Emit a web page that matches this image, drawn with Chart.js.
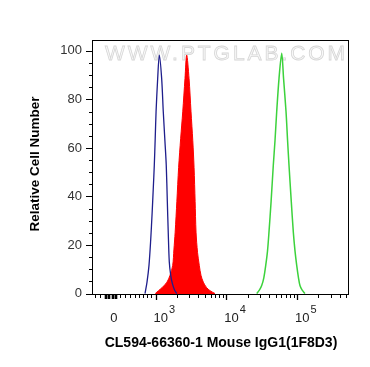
<!DOCTYPE html>
<html><head><meta charset="utf-8">
<script src="https://cdn.jsdelivr.net/npm/chart.js@4/dist/chart.umd.min.js"></script>
<style>html,body{margin:0;padding:0;background:#fff;}canvas{display:block}</style>
</head><body>
<canvas id="c" width="370" height="367"></canvas>
<script>
// ---- text ----
const xTitle = 'CL594-66360-1 Mouse IgG1(1F8D3)';
const yTitle = 'Relative Cell Number';
const watermark = 'WWW.PTGLAB.COM';

// ---- axes (x in display decades: 3 = 10^3, 4 = 10^4 ...) ----
const yTickValues = [0, 20, 40, 60, 80, 100];
const yMinorStep = 5;
const xZeroPosition = 2.41;          // where "0" sits on the biexponential axis
const xDecadeExponents = [3, 4, 5];  // labelled decades 10^3, 10^4, 10^5
const xLowMinorTicks = [2.145, 2.216, 2.498, 2.569, 2.640, 2.710, 2.771, 2.828, 2.884, 2.932];
const xZeroClusterTicks = [2.286, 2.307, 2.328, 2.349, 2.385, 2.406, 2.427, 2.448];

// ---- series (x: display decade position, y: relative cell number) ----
const blueX = [2.852, 2.880, 2.908, 2.932, 2.952, 2.968, 2.983, 2.996, 3.008, 3.031, 3.054, 3.087, 3.110, 3.133, 3.152, 3.167, 3.180, 3.195, 3.215, 3.238, 3.269, 3.300];
const blueY = [0, 4.7, 11.6, 22, 33, 43, 52.9, 64, 74.9, 88.7, 98.3, 88.7, 74.9, 63, 52.9, 38, 25.3, 13, 7.5, 4.2, 1.5, 0];

const redX = [2.997, 3.043, 3.095, 3.162, 3.205, 3.243, 3.260, 3.278, 3.302, 3.327, 3.356, 3.385, 3.417, 3.441, 3.474, 3.502, 3.527, 3.545, 3.560, 3.573, 3.594, 3.619, 3.643, 3.676, 3.721, 3.770, 3.841];
const redY = [0, 1.2, 2.5, 4.7, 7.5, 11.6, 18, 25.3, 38, 52, 64, 74.9, 88.7, 98.3, 88.7, 74.9, 63, 52, 38, 25.3, 17, 11.6, 7.5, 4.7, 2.5, 1.2, 0];

const greenX = [4.430, 4.470, 4.501, 4.531, 4.558, 4.583, 4.604, 4.634, 4.665, 4.689, 4.713, 4.746, 4.784, 4.810, 4.845, 4.867, 4.887, 4.919, 4.948, 4.972, 4.996, 5.021, 5.042, 5.071, 5.113];
const greenY = [0, 1.5, 3.3, 6.5, 11.6, 17.5, 25.3, 38, 52.9, 63, 74.9, 88.7, 99, 88.7, 74.9, 63, 52.9, 38, 25.3, 17.5, 11.6, 6.5, 3.3, 1.5, 0];

const FONT = '"Liberation Sans", Arial, Helvetica, sans-serif';
const pts = (xs, ys) => xs.map((x, i) => ({x, y: ys[i]}));

const decor = {
  id: 'decor',
  beforeDatasetsDraw(chart) {
    const {ctx, chartArea: a} = chart;
    ctx.save();
    ctx.font = '21px ' + FONT;
    const w0 = ctx.measureText(watermark).width;
    const sp = (240 - w0) / (watermark.length - 1);
    ctx.letterSpacing = sp.toFixed(2) + 'px';
    ctx.textBaseline = 'middle';
    ctx.textAlign = 'left';
    ctx.fillStyle = '#f8f8f8';
    ctx.strokeStyle = '#d6d6d6';
    ctx.lineWidth = 0.8;
    ctx.fillText(watermark, a.left + 12, a.top + 14);
    ctx.strokeText(watermark, a.left + 12, a.top + 14);
    ctx.restore();
  },
  afterDraw(chart) {
    const {ctx, chartArea: a, scales: {x, y}} = chart;
    ctx.save();
    ctx.strokeStyle = '#000';
    ctx.lineWidth = 1;
    // frame
    ctx.strokeRect(a.left - 0.5, a.top + 0.5, a.right - a.left, a.bottom - a.top - 1);
    // y ticks
    for (let v = 0; v <= 100; v += yMinorStep) {
      const py = Math.round(y.getPixelForValue(v)) + 0.5;
      const len = yTickValues.includes(v) ? 6 : 3;
      ctx.beginPath(); ctx.moveTo(a.left - 1 - len, py); ctx.lineTo(a.left - 1, py); ctx.stroke();
    }
    // x ticks
    const tickX = (t, len, lw) => {
      const px = Math.round(x.getPixelForValue(t)) + 0.5;
      ctx.lineWidth = lw;
      ctx.beginPath(); ctx.moveTo(px, a.bottom); ctx.lineTo(px, a.bottom + len); ctx.stroke();
    };
    xDecadeExponents.forEach(n => tickX(n, 5, 1.3));
    const minors = [];
    xDecadeExponents.forEach(n => { for (let k = 2; k <= 9; k++) minors.push(n + Math.log10(k)); });
    minors.filter(t => t < x.max).forEach(t => tickX(t, 3, 1));
    xLowMinorTicks.forEach(t => tickX(t, 3, 1));
    xZeroClusterTicks.forEach(t => tickX(t, 4, 1.6));
    // x labels
    ctx.fillStyle = '#222';
    ctx.textBaseline = 'middle';
    ctx.font = '13px ' + FONT;
    ctx.textAlign = 'center';
    ctx.fillText('0', x.getPixelForValue(xZeroPosition), 318);
    xDecadeExponents.forEach(n => {
      const px = x.getPixelForValue(n);
      ctx.font = '13px ' + FONT;
      ctx.textAlign = 'left';
      ctx.fillText('10', px - 2, 318);
      const w = ctx.measureText('10').width;
      ctx.font = '11px ' + FONT;
      ctx.fillText(String(n), px - 2 + w + 1, 309.5);
    });
    // y title
    ctx.fillStyle = '#000';
    ctx.font = 'bold 13.5px ' + FONT;
    ctx.textAlign = 'center';
    ctx.translate(35, 164);
    ctx.rotate(-Math.PI / 2);
    ctx.fillText(yTitle, 0, 0);
    ctx.restore();
  }
};

new Chart(document.getElementById('c'), {
  type: 'line',
  data: {
    datasets: [
      {label: 'Isotype', data: pts(blueX, blueY), borderColor: '#1e1e8c', borderWidth: 1.3, fill: false, pointRadius: 0, tension: 0.3},
      {label: 'Sample', data: pts(redX, redY), borderColor: '#ff0000', backgroundColor: '#ff0000', borderWidth: 1, fill: 'start', pointRadius: 0, tension: 0.3},
      {label: 'Positive', data: pts(greenX, greenY), borderColor: '#3cd23c', borderWidth: 1.5, fill: false, pointRadius: 0, tension: 0.3}
    ]
  },
  options: {
    responsive: false, animation: false, devicePixelRatio: 1,
    layout: {padding: {left: 0, right: 21, top: 40, bottom: 0}},
    plugins: {legend: {display: false}, tooltip: {enabled: false}},
    scales: {
      x: {
        type: 'linear', min: 2.1166, max: 5.735,
        grid: {display: false, drawTicks: false}, border: {display: false},
        ticks: {display: false},
        afterFit(s) { s.height = 72; },
        title: {display: true, text: xTitle, color: '#000', font: {family: FONT, size: 14, weight: 'bold'}, padding: {top: 0, bottom: 15}}
      },
      y: {
        type: 'linear', min: -0.6, max: 104.5,
        afterBuildTicks(s) { s.ticks = yTickValues.map(v => ({value: v})); },
        ticks: {padding: 11, color: '#333', font: {family: FONT, size: 13}},
        grid: {display: false, drawTicks: false}, border: {display: false},
        afterFit(s) { s.width = 93; },
        title: {display: false}
      }
    }
  },
  plugins: [decor]
});
</script>
</body></html>
